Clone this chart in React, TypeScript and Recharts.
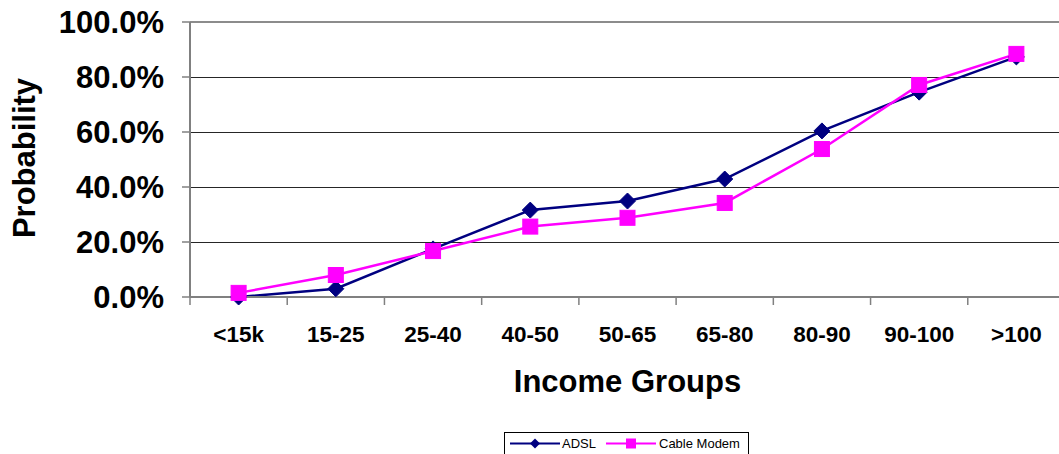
import { LineChart, Line, XAxis, YAxis, CartesianGrid, ReferenceLine } from 'recharts';

const incomeGroups = ['<15k', '15-25', '25-40', '40-50', '50-65', '65-80', '80-90', '90-100', '>100'];
const adsl = [0, 0.03, 0.175, 0.316, 0.349, 0.429, 0.604, 0.745, 0.873];
const cableModem = [0.015, 0.08, 0.167, 0.256, 0.288, 0.342, 0.538, 0.771, 0.884];
const yTicks = [0, 0.2, 0.4, 0.6, 0.8, 1];
const gridValues = [0.2, 0.4, 0.6, 0.8];

const data = incomeGroups.map((group, i) => ({ group, adsl: adsl[i], cable: cableModem[i] }));

const FONT = '"Liberation Sans", Arial, sans-serif';
const CHART_W = 1080;
const CHART_H = 454;
const MARGIN = { top: 22, right: 15, bottom: 0, left: 0 };
const Y_AXIS_W = 190;
const X_AXIS_H = 157;
const plotWidth = CHART_W - MARGIN.left - MARGIN.right - Y_AXIS_W;
const bandWidth = plotWidth / incomeGroups.length;

const NAVY = '#000080';
const MAGENTA = '#FF00FF';

const Diamond = (props: any) => {
  const { cx, cy } = props;
  if (cx == null || cy == null) return null;
  const r = 8;
  return <polygon points={`${cx},${cy - r} ${cx + r},${cy} ${cx},${cy + r} ${cx - r},${cy}`} fill={NAVY} stroke={NAVY} strokeWidth={1} />;
};

const Square = (props: any) => {
  const { cx, cy } = props;
  if (cx == null || cy == null) return null;
  const r = 7.5;
  return <rect x={cx - r} y={cy - r} width={r * 2} height={r * 2} fill={MAGENTA} stroke={MAGENTA} strokeWidth={1} />;
};

// category labels, with the tick marks sitting on the band edges
const GroupTick = (props: any) => {
  const { x, y, payload, index } = props;
  const edge = x - bandWidth / 2;
  return (
    <g>
      <line x1={edge} y1={y - 8} x2={edge} y2={y} stroke="#808080" strokeWidth={1.5} />
      {index === incomeGroups.length - 1 && (
        <line x1={x + bandWidth / 2} y1={y - 8} x2={x + bandWidth / 2} y2={y} stroke="#808080" strokeWidth={1.5} />
      )}
      <text x={x} y={y + 37} textAnchor="middle" fontFamily={FONT} fontWeight="bold" fontSize={22.5} fill="#000">
        {payload.value}
      </text>
    </g>
  );
};

const ProbabilityLabel = () => (
  <text transform="translate(35,158) rotate(-90)" textAnchor="middle" fontFamily={FONT} fontWeight="bold" fontSize={31} fill="#000">
    Probability
  </text>
);

const IncomeLabel = () => (
  <text x={627.5} y={392} textAnchor="middle" fontFamily={FONT} fontWeight="bold" fontSize={31} fill="#000">
    Income Groups
  </text>
);

function LegendBox() {
  return (
    <div
      style={{
        position: 'absolute',
        left: 504,
        top: 432,
        width: 245,
        height: 28,
        border: '1px solid #000',
        background: '#fff',
        fontFamily: FONT,
        fontSize: 13,
        boxSizing: 'border-box',
      }}
    >
      <svg width={244} height={22} style={{ position: 'absolute', left: 0, top: 0 }}>
        <line x1={5} y1={10.5} x2={55} y2={10.5} stroke={NAVY} strokeWidth={2} />
        <polygon points="30,5.5 35,10.5 30,15.5 25,10.5" fill={NAVY} />
        <text x={57} y={15} fontFamily={FONT} fontSize={13} fill="#000">ADSL</text>
        <line x1={101} y1={10.5} x2={151} y2={10.5} stroke={MAGENTA} strokeWidth={2} />
        <rect x={121} y={5.5} width={10} height={10} fill={MAGENTA} />
        <text x={154} y={15} fontFamily={FONT} fontSize={13} fill="#000">Cable Modem</text>
      </svg>
    </div>
  );
}

export default function App() {
  return (
    <div style={{ position: 'absolute', left: 0, top: 0, width: 1059, height: 454, overflow: 'hidden', background: '#fff' }}>
      <LineChart width={CHART_W} height={CHART_H} data={data} margin={MARGIN}>
        <CartesianGrid
          vertical={false}
          horizontal
          horizontalValues={gridValues}
          stroke="#000"
          strokeOpacity={0.85}
          strokeWidth={1}
          shapeRendering="crispEdges"
        />
        <XAxis
          dataKey="group"
          height={X_AXIS_H}
          interval={0}
          padding={{ left: bandWidth / 2, right: bandWidth / 2 }}
          tick={<GroupTick />}
          tickLine={false}
          tickSize={8}
          tickMargin={0}
          axisLine={{ stroke: '#808080', strokeWidth: 2 }}
          label={<IncomeLabel />}
        />
        <YAxis
          width={Y_AXIS_W}
          domain={[0, 1]}
          ticks={yTicks}
          interval={0}
          tickFormatter={(v: number) => `${(v * 100).toFixed(1)}%`}
          tick={{ fontFamily: FONT, fontWeight: 'bold', fontSize: 31, fill: '#000' }}
          tickSize={8}
          tickMargin={18}
          tickLine={{ stroke: '#808080', strokeWidth: 1.5 }}
          axisLine={{ stroke: '#808080', strokeWidth: 2 }}
          label={<ProbabilityLabel />}
        />
        <ReferenceLine y={1} stroke="#8c8c8c" strokeWidth={2} />
        <Line
          dataKey="adsl"
          stroke={NAVY}
          strokeWidth={2.5}
          dot={<Diamond />}
          activeDot={false}
          isAnimationActive={false}
        />
        <Line
          dataKey="cable"
          stroke={MAGENTA}
          strokeWidth={2.5}
          dot={<Square />}
          activeDot={false}
          isAnimationActive={false}
        />
      </LineChart>
      <LegendBox />
    </div>
  );
}
